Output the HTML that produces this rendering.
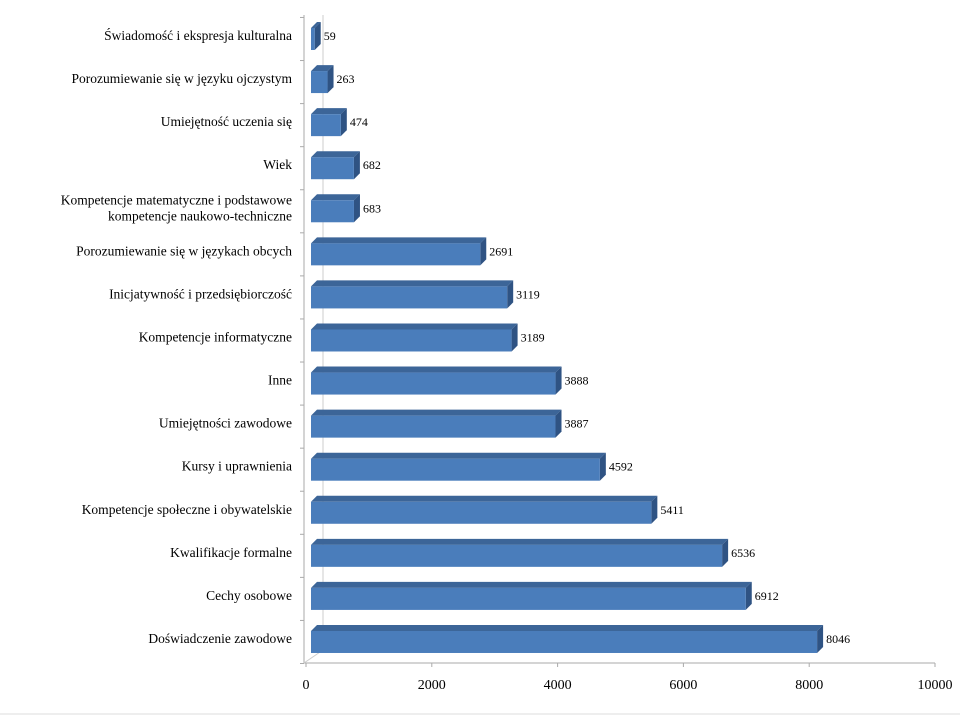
<!DOCTYPE html>
<html><head><meta charset="utf-8"><style>
body{margin:0;background:#fff;width:960px;height:716px;overflow:hidden}
svg{font-family:"Liberation Serif",serif}
</style></head><body>
<svg width="960" height="716">
<g id="axes"></g>
<g id="bars"></g>
<g id="labels"></g>
<line x1="0" y1="714" x2="960" y2="714" stroke="#ddd"/>
</svg>
<script>
const categories=["Świadomość i ekspresja kulturalna","Porozumiewanie się w języku ojczystym","Umiejętność uczenia się","Wiek","Kompetencje matematyczne i podstawowe|kompetencje naukowo-techniczne","Porozumiewanie się w językach obcych","Inicjatywność i przedsiębiorczość","Kompetencje informatyczne","Inne","Umiejętności zawodowe","Kursy i uprawnienia","Kompetencje społeczne i obywatelskie","Kwalifikacje formalne","Cechy osobowe","Doświadczenie zawodowe"];
const values=[59,263,474,682,683,2691,3119,3189,3888,3887,4592,5411,6536,6912,8046];
const ticks=[0,2000,4000,6000,8000,10000];
const NS="http://www.w3.org/2000/svg";
function mk(p,t,a){const e=document.createElementNS(NS,t);for(const k in a)e.setAttribute(k,a[k]);p.appendChild(e);return e;}
const x0=306,x1=935,max=10000,bx=311;
const sx=v=>x0+v/max*(x1-x0);
const sw=v=>v/max*(x1-x0);
const yTop=35,step=43.07,bh=22,dx=6,dy=6;
const cy=i=>yTop+i*step;
const ax=document.getElementById('axes'),bg=document.getElementById('bars'),lg=document.getElementById('labels');
mk(ax,'line',{x1:304,y1:15,x2:304,y2:663,stroke:'#aaa'});
mk(ax,'line',{x1:323,y1:15,x2:323,y2:650,stroke:'#ccc'});
mk(ax,'line',{x1:304,y1:663,x2:935,y2:663,stroke:'#aaa'});
mk(ax,'line',{x1:304,y1:663,x2:323,y2:650,stroke:'#ccc'});
for(let i=0;i<=categories.length;i++){const y=cy(i)-step/2+4;const t=mk(ax,'line',{x1:300,y1:y,x2:304,y2:y,stroke:'#aaa'});}
ticks.forEach(t=>{const x=sx(t);
 const l=mk(ax,'line',{x1:x,y1:663,x2:x,y2:667,stroke:'#aaa'});
 
 const tx=mk(ax,'text',{x:x,y:689,'text-anchor':'middle','font-size':14,fill:'#000'});tx.textContent=t;
 
 });
categories.forEach((c,i)=>{
 const y=cy(i)-bh/2+4,w=sw(values[i]);
 const g=mk(bg,'g',{});
 
 
 mk(g,'polygon',{points:`${bx},${y} ${bx+dx},${y-dy} ${bx+w+dx},${y-dy} ${bx+w},${y}`,fill:'#3c6598'});
 mk(g,'polygon',{points:`${bx+w},${y} ${bx+w+dx},${y-dy} ${bx+w+dx},${y+bh-dy} ${bx+w},${y+bh}`,fill:'#2f5383'});
 mk(g,'rect',{x:bx,y:y,width:w,height:bh,fill:'#4a7dbb'});
 const v=mk(g,'text',{x:bx+w+dx+3,y:y+bh/2+1,'font-size':12,fill:'#000'});v.textContent=values[i];
 
 
 const parts=c.split('|');
 parts.forEach((p,j)=>{const t=mk(lg,'text',{x:292,y:cy(i)+5+(j-(parts.length-1)/2)*16,'text-anchor':'end','font-size':13.5,fill:'#000'});t.textContent=p;
  
  });
});
</script>
</body></html>
